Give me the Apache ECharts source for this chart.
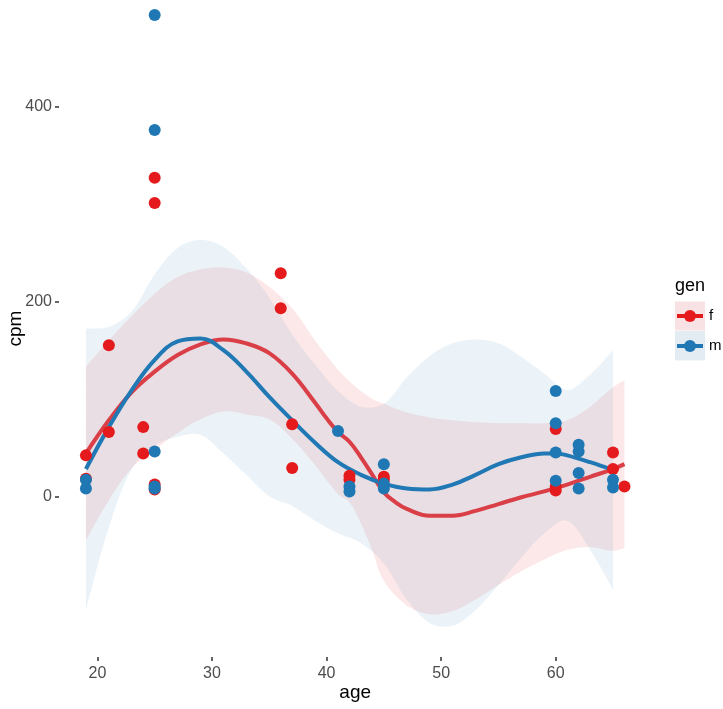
<!DOCTYPE html>
<html>
<head>
<meta charset="utf-8">
<script src="https://cdn.jsdelivr.net/npm/echarts@6/dist/echarts.min.js"></script>
<style>
  html, body { margin: 0; padding: 0; background: #fff; }
  #chart { width: 723px; height: 709px; }
</style>
</head>
<body>
<div id="chart"></div>
<script>
// Observations, gen = f
const femaleAge = [19, 19, 21, 21, 24, 24, 25, 25, 25, 25, 36, 36, 37, 37, 42, 42, 45, 45, 60, 60, 60, 65, 65, 66];
const femaleCpm = [42, 18, 155, 66, 71, 44, 327, 301, 12, 7, 229, 193, 74, 29, 21, 17, 20, 17, 69, 10, 6, 45, 28, 10];

// Observations, gen = m
const maleAge = [19, 19, 25, 25, 25, 25, 25, 41, 42, 42, 45, 45, 45, 60, 60, 60, 60, 62, 62, 62, 62, 65, 65];
const maleCpm = [17, 8, 494, 376, 46, 10, 8, 67, 10, 5, 33, 13, 8, 108, 75, 45, 16, 53, 46, 24, 8, 17, 9];

// Smoothed trend, f
const fitAgeF = [19, 21, 23, 25, 27, 29, 31, 33, 35, 37, 39, 40, 41, 42, 43, 44, 45, 46, 47, 49, 51, 53, 55, 57, 59, 61, 63, 65, 66];
const fitF    = [44, 78, 107, 128, 145, 156, 161, 157, 147, 126, 96, 80, 66, 56, 40, 22, 4, -6, -13, -20, -20, -15, -8, -1, 5, 12, 20, 28, 33];

// Confidence band, f
const bandAgeF = [19, 21, 23, 25, 27, 29, 31, 33, 35, 37, 39, 41, 42, 43, 44, 45, 47, 49, 51, 53, 55, 57, 59, 61, 63, 65, 66];
const bandHiF  = [133, 160, 185, 208, 225, 233, 235, 230, 215, 193, 160, 130, 118, 108, 100, 95, 86, 81, 78, 76, 75, 75, 75, 78, 92, 112, 119];
const bandLoF  = [-45, -4, 29, 48, 65, 79, 87, 84, 79, 59, 32, 2, -6, -28, -56, -87, -112, -121, -118, -106, -91, -77, -65, -55, -52, -56, -53];

// Smoothed trend, m
const fitAgeM = [19, 21, 23, 25, 27, 29, 31, 33, 35, 37, 39, 41, 43, 45, 47, 49, 51, 53, 55, 57, 59, 60, 61, 63, 65];
const fitM    = [28, 71, 109, 140, 159, 162, 150, 128, 102, 78, 55, 35, 22, 13, 8, 7, 12, 22, 33, 40, 44, 44, 42, 35, 27];

// Confidence band, m
const bandAgeM = [19, 21, 23, 25, 27, 29, 31, 33, 35, 37, 39, 41, 43, 45, 47, 49, 51, 53, 55, 57, 59, 61, 63, 65];
const bandHiM  = [172, 174, 190, 228, 255, 263, 256, 234, 204, 166, 135, 108, 92, 95, 122, 144, 157, 161, 157, 143, 126, 109, 125, 150];
const bandLoM  = [-116, -32, 28, 52, 61, 63, 44, 22, 0, -10, -25, -38, -48, -69, -106, -130, -133, -117, -91, -63, -38, -25, -55, -96];

// Axis ticks
const xTicks = [20, 30, 40, 50, 60];
const yTicks = [0, 200, 400];

const RED = '#E41A1C';
const BLUE = '#1F78B4';
const TXT = '#4D4D4D';
const FONT = '"Liberation Sans", Arial, Helvetica, sans-serif';

function pairs(xs, ys) { return xs.map((x, i) => [x, ys[i]]); }

// Ribbon between an upper and a lower curve; corners repeated so the end edges stay straight
function ribbon(name, ages, hi, lo, fill) {
  return {
    type: 'custom',
    name: name,
    silent: true,
    z: 1,
    data: [0],
    renderItem: function (params, api) {
      const top = ages.map((a, i) => api.coord([a, hi[i]]));
      const bot = ages.map((a, i) => api.coord([a, lo[i]])).reverse();
      const pts = [];
      pts.push(top[0]);
      top.forEach(p => pts.push(p));
      pts.push(top[top.length - 1]);
      pts.push(bot[0]);
      bot.forEach(p => pts.push(p));
      pts.push(bot[bot.length - 1]);
      return {
        type: 'polygon',
        shape: { points: pts, smooth: 0.35 },
        style: { fill: fill, stroke: null }
      };
    }
  };
}

const chart = echarts.init(document.getElementById('chart'), null, { renderer: 'canvas', width: 723, height: 709 });

const option = {
  backgroundColor: '#ffffff',
  animation: false,
  grid: { left: 59, right: 71.6, top: 0, bottom: 52, containLabel: false, outerBoundsMode: 'none' },
  xAxis: {
    type: 'value',
    min: 16.65,
    max: 68.35,
    name: 'age',
    nameLocation: 'middle',
    nameGap: 26,
    nameMoveOverlap: false,
    nameTextStyle: { color: '#000', fontSize: 19, fontFamily: FONT },
    axisLine: { show: false, onZero: false },
    splitLine: { show: false },
    axisTick: { show: true, length: 4, customValues: xTicks, lineStyle: { color: '#333', width: 1.5 } },
    axisLabel: { customValues: xTicks, color: TXT, fontSize: 16, fontFamily: FONT, margin: 9 }
  },
  yAxis: {
    type: 'value',
    min: -165,
    max: 509.5,
    name: 'cpm',
    nameLocation: 'middle',
    nameRotate: 90,
    nameGap: 34,
    nameMoveOverlap: false,
    nameTextStyle: { color: '#000', fontSize: 19, fontFamily: FONT },
    axisLine: { show: false, onZero: false },
    splitLine: { show: false },
    axisTick: { show: true, length: 4, customValues: yTicks, lineStyle: { color: '#333', width: 1.5 } },
    axisLabel: { customValues: yTicks, color: TXT, fontSize: 16, fontFamily: FONT, margin: 7 }
  },
  series: [
    ribbon('f band', bandAgeF, bandHiF, bandLoF, 'rgba(228,26,28,0.10)'),
    ribbon('m band', bandAgeM, bandHiM, bandLoM, 'rgba(31,120,180,0.09)'),
    {
      type: 'line', name: 'f fit', data: pairs(fitAgeF, fitF), smooth: 0.4,
      showSymbol: false, symbol: 'none', z: 3, silent: true,
      lineStyle: { color: '#DA3E47', width: 4 }
    },
    {
      type: 'line', name: 'm fit', data: pairs(fitAgeM, fitM), smooth: 0.4,
      showSymbol: false, symbol: 'none', z: 3, silent: true,
      lineStyle: { color: '#2078B4', width: 4 }
    },
    {
      type: 'scatter', name: 'f', data: pairs(femaleAge, femaleCpm),
      symbol: 'circle', symbolSize: 12, z: 4, itemStyle: { color: RED, opacity: 1 }
    },
    {
      type: 'scatter', name: 'm', data: pairs(maleAge, maleCpm),
      symbol: 'circle', symbolSize: 12, z: 5, itemStyle: { color: BLUE, opacity: 1 }
    }
  ],
  graphic: [
    { type: 'text', left: 675, top: 277, style: { text: 'gen', fill: '#000', font: '18px ' + FONT } },
    { type: 'rect', shape: { x: 675, y: 301.5, width: 30, height: 29 }, style: { fill: '#F8E2E3' } },
    { type: 'line', shape: { x1: 677, y1: 316, x2: 703, y2: 316 }, style: { stroke: RED, lineWidth: 4 } },
    { type: 'circle', shape: { cx: 690, cy: 316, r: 6 }, style: { fill: RED } },
    { type: 'text', left: 709, top: 308, style: { text: 'f', fill: '#000', font: '15px ' + FONT } },
    { type: 'rect', shape: { x: 675, y: 331, width: 30, height: 29.5 }, style: { fill: '#E3ECF3' } },
    { type: 'line', shape: { x1: 677, y1: 346, x2: 703, y2: 346 }, style: { stroke: BLUE, lineWidth: 4 } },
    { type: 'circle', shape: { cx: 690, cy: 346, r: 6 }, style: { fill: BLUE } },
    { type: 'text', left: 709, top: 338, style: { text: 'm', fill: '#000', font: '15px ' + FONT } }
  ]
};

chart.setOption(option);
</script>
</body>
</html>
